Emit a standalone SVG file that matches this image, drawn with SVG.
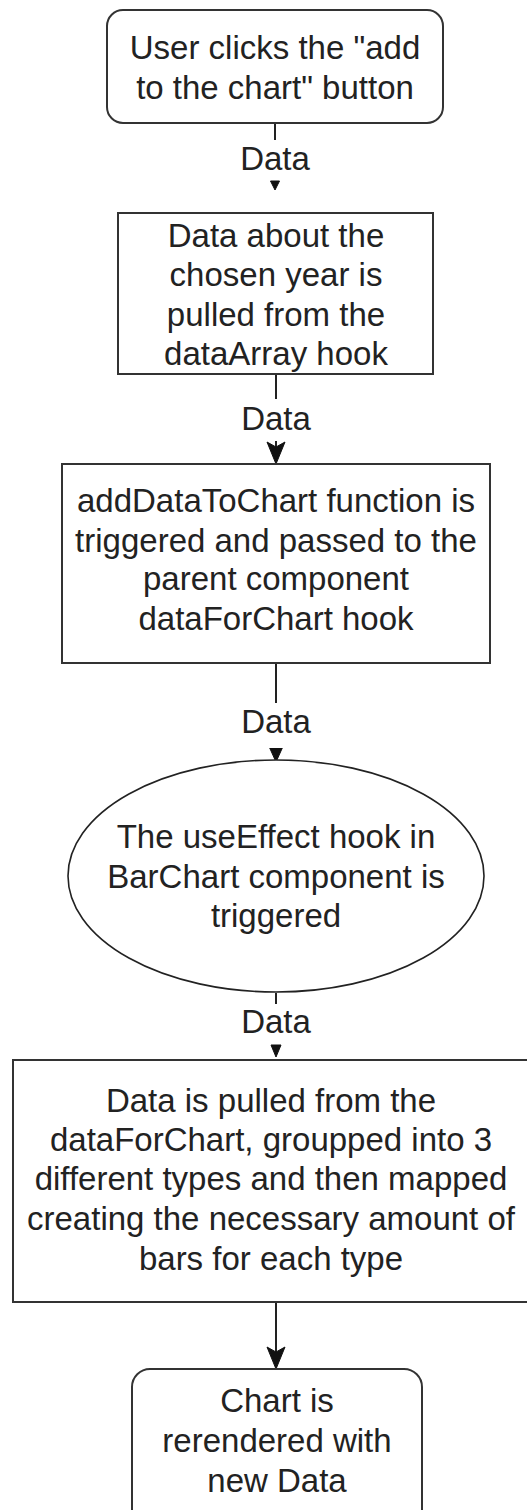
<svg xmlns="http://www.w3.org/2000/svg" width="527" height="1510" viewBox="0 0 527 1510">
  <defs>
    <style>
      .shape { fill: #ffffff; stroke: #333333; stroke-width: 2; }
      .oval { fill: #ffffff; stroke: #222222; stroke-width: 1.6; }
      .txt { font-family: "Liberation Sans", Arial, sans-serif; font-size: 33px; fill: #222222; text-anchor: middle; }
      .edge { fill: none; stroke: #222222; stroke-width: 2; }
      .head { fill: #111111; stroke: #111111; stroke-width: 1; }
      .lblbg { fill: #ffffff; }
    </style>
  </defs>
  <rect width="527" height="1510" fill="#ffffff"/>

  <!-- connectors -->
  <g id="connectors">
    <!-- start -> pull data -->
    <line class="edge" x1="275" y1="123" x2="275" y2="140"/>
    <rect class="lblbg" x="240" y="140" width="70" height="40"/>
    <text class="txt" x="275" y="170">Data</text>
    <path class="head" d="M270.5 181 L279.5 181 L275 190 Z"/>

    <!-- pull data -> addDataToChart -->
    <line class="edge" x1="276" y1="374" x2="276" y2="450"/>
    <rect class="lblbg" x="240" y="399" width="72" height="42"/>
    <text class="txt" x="276" y="430">Data</text>
    <path class="head" d="M276 464 L267 442 L276 447 L285 442 Z"/>

    <!-- addDataToChart -> useEffect -->
    <line class="edge" x1="276" y1="663" x2="276" y2="752"/>
    <path class="head" d="M276 762 L267 742 L276 747 L285 742 Z"/>
    <rect class="lblbg" x="240" y="703" width="72" height="45"/>
    <text class="txt" x="276" y="733">Data</text>

    <!-- useEffect -> grouping -->
    <line class="edge" x1="276" y1="993" x2="276" y2="1004"/>
    <rect class="lblbg" x="240" y="1004" width="72" height="40"/>
    <text class="txt" x="276" y="1033">Data</text>
    <path class="head" d="M271 1045 L281 1045 L276 1057 Z"/>

    <!-- grouping -> rerender -->
    <line class="edge" x1="276" y1="1302" x2="276" y2="1355"/>
    <path class="head" d="M276 1369 L267 1347 L276 1352 L285 1347 Z"/>
  </g>

  <!-- nodes -->
  <g id="node-click">
    <rect class="shape" x="107" y="10" width="336" height="113" rx="16" ry="16"/>
    <text class="txt" x="275" y="59">User clicks the "add</text>
    <text class="txt" x="275" y="99">to the chart" button</text>
  </g>

  <g id="node-pull">
    <rect class="shape" x="118" y="213" width="315" height="161"/>
    <text class="txt" x="276" y="247">Data about the</text>
    <text class="txt" x="276" y="286">chosen year is</text>
    <text class="txt" x="276" y="326">pulled from the</text>
    <text class="txt" x="276" y="365">dataArray hook</text>
  </g>

  <g id="node-add">
    <rect class="shape" x="62" y="464" width="428" height="199"/>
    <text class="txt" x="276" y="512">addDataToChart function is</text>
    <text class="txt" x="276" y="552">triggered and passed to the</text>
    <text class="txt" x="276" y="590">parent component</text>
    <text class="txt" x="276" y="630">dataForChart hook</text>
  </g>

  <g id="node-effect">
    <ellipse class="oval" cx="276" cy="876" rx="208" ry="116"/>
    <text class="txt" x="276" y="848">The useEffect hook in</text>
    <text class="txt" x="276" y="888">BarChart component is</text>
    <text class="txt" x="276" y="927">triggered</text>
  </g>

  <g id="node-group">
    <rect class="shape" x="13" y="1060" width="520" height="242"/>
    <text class="txt" x="271" y="1112">Data is pulled from the</text>
    <text class="txt" x="271" y="1151">dataForChart, groupped into 3</text>
    <text class="txt" x="271" y="1190">different types and then mapped</text>
    <text class="txt" x="271" y="1230">creating the necessary amount of</text>
    <text class="txt" x="271" y="1270">bars for each type</text>
  </g>

  <g id="node-render">
    <rect class="shape" x="132" y="1369" width="290" height="160" rx="18" ry="18"/>
    <text class="txt" x="277" y="1412">Chart is</text>
    <text class="txt" x="277" y="1452">rerendered with</text>
    <text class="txt" x="277" y="1492">new Data</text>
  </g>
</svg>
